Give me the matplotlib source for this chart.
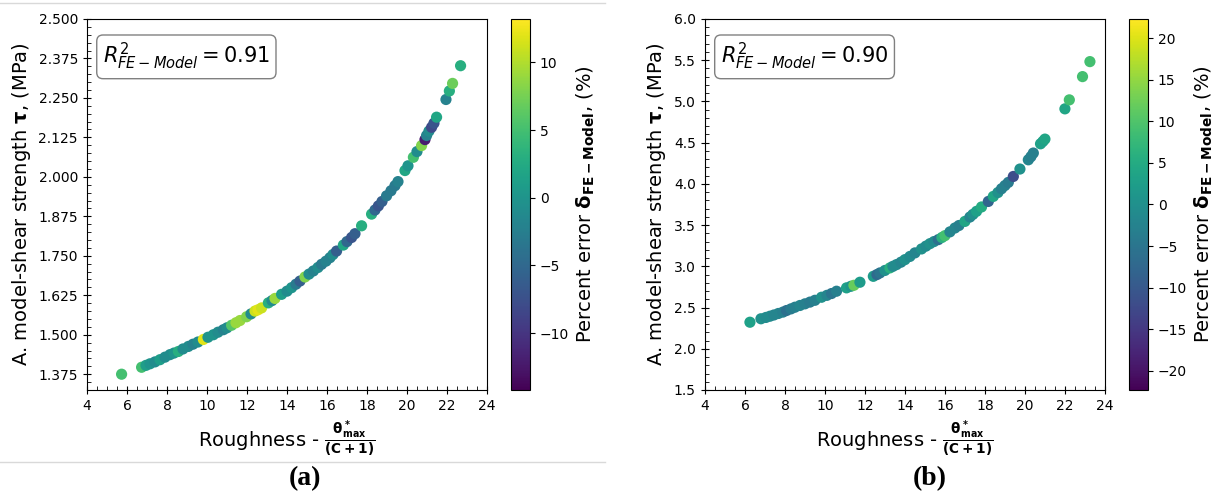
import matplotlib
matplotlib.use("Agg")
import matplotlib.pyplot as plt
from matplotlib.ticker import MultipleLocator
from matplotlib.colors import Normalize
from matplotlib.lines import Line2D

# panel (a): roughness, shear strength (MPa), percent error (%)
rough_a = [5.73, 6.73, 6.95, 7.15, 7.40, 7.65, 7.90, 8.15, 8.35, 8.57, 8.80, 9.07, 9.30, 9.55, 9.82,
           10.05, 10.32, 10.55, 10.82, 11.00, 11.23, 11.45, 11.65, 11.98, 12.20, 12.40, 12.55, 12.73,
           13.07, 13.25, 13.40, 13.73, 14.00, 14.23, 14.45, 14.65, 14.90, 15.10, 15.32, 15.55, 15.73,
           15.95, 16.15, 16.30, 16.48, 16.82, 17.00, 17.23, 17.40, 17.73, 18.23, 18.40, 18.57, 18.75,
           18.98, 19.20, 19.40, 19.55, 19.90, 20.05, 20.32, 20.50, 20.73, 20.90, 20.98, 21.10, 21.23,
           21.35, 21.48, 21.95, 22.12, 22.28, 22.68]
tau_a = [1.375, 1.397, 1.403, 1.408, 1.414, 1.421, 1.429, 1.437, 1.442, 1.447, 1.455, 1.463, 1.470, 1.477, 1.485,
         1.492, 1.500, 1.508, 1.516, 1.522, 1.530, 1.538, 1.545, 1.557, 1.566, 1.575, 1.579, 1.585,
         1.601, 1.608, 1.615, 1.628, 1.638, 1.649, 1.660, 1.670, 1.683, 1.692, 1.702, 1.713, 1.723,
         1.733, 1.744, 1.754, 1.765, 1.784, 1.795, 1.808, 1.820, 1.845, 1.882, 1.895, 1.908, 1.922,
         1.940, 1.956, 1.972, 1.985, 2.020, 2.035, 2.062, 2.080, 2.099, 2.118, 2.131, 2.145, 2.157,
         2.170, 2.189, 2.245, 2.272, 2.296, 2.352]
err_a = [5, 5, 1, 0, -1, 1, -1, -1, 0, 3, -1, -1, -2, -1, 12,
         0, 0, -1, -2, -1, 6, 9, 9, 8, -1, 11, 12, 11,
         3, -1, 9, 1, -1, 0, -3, -6, 8, -1, -2, -1, -3,
         -2, -2, -1, -6, 2, -5, -7, -6, 3, 3, -5, -7, -6,
         -3, -3, -3, -2, 2, 0, 5, -1, 8, -12, -2, -1, -8,
         -7, 2, -2, 3, 7, 3]
r2_a = 0.91
cmin_a, cmax_a = -14.2, 13.2

# panel (b)
rough_b = [6.25, 6.80, 7.05, 7.25, 7.45, 7.67, 7.90, 8.08, 8.30, 8.50, 8.75, 9.00, 9.25, 9.50, 9.83,
           10.10, 10.33, 10.58, 11.08, 11.30, 11.45, 11.75, 12.42, 12.60, 12.75, 13.00, 13.25, 13.40,
           13.58, 13.80, 14.00, 14.25, 14.50, 14.83, 15.05, 15.25, 15.45, 15.67, 15.85, 16.00, 16.25,
           16.50, 16.70, 17.00, 17.25, 17.40, 17.58, 17.83, 18.17, 18.42, 18.65, 18.83, 19.00, 19.17,
           19.42, 19.75, 20.17, 20.30, 20.42, 20.78, 20.90, 21.00, 22.00, 22.22, 22.88, 23.25]
tau_b = [2.322, 2.364, 2.380, 2.395, 2.410, 2.428, 2.445, 2.464, 2.484, 2.504, 2.525, 2.545, 2.566, 2.588, 2.625,
         2.648, 2.670, 2.698, 2.739, 2.758, 2.770, 2.807, 2.879, 2.900, 2.920, 2.950, 2.981, 3.000,
         3.021, 3.050, 3.081, 3.120, 3.163, 3.211, 3.245, 3.275, 3.300, 3.324, 3.350, 3.372, 3.418,
         3.465, 3.495, 3.545, 3.598, 3.630, 3.667, 3.720, 3.787, 3.848, 3.895, 3.941, 3.980, 4.018,
         4.090, 4.180, 4.292, 4.330, 4.374, 4.486, 4.515, 4.543, 4.910, 5.019, 5.301, 5.483]
err_b = [3, 0, -1, -1, -2, -2, -3, -6, -4, -3, -2, -3, -4, -3, 0,
         -2, -5, -3, 3, 1, 12, 2, 2, -7, -5, 0, 6, -1,
         -1, -2, 0, -1, -2, 0, -1, 0, -1, -6, 6, 9, -2,
         -2, -3, 4, -2, 0, 3, 5, -8, 4, 0, -3, -3, -4,
         -12, 0, -2, -3, -3, 3, 3, 4, 4, 9, 9, 9]
r2_b = 0.90
cmin_b, cmax_b = -22.3, 22.3

fig = plt.figure(figsize=(12.15, 4.97), dpi=100)


def panel(rect, cbrect, x, y, c, cmin, cmax, r2, ylim, ymaj, ymin, fmt, tag, tagx):
    ax = fig.add_axes(rect)
    sc = ax.scatter(x, y, c=c, cmap="viridis", norm=Normalize(cmin, cmax), s=65, linewidths=0)
    ax.set_xlim(4, 24)
    ax.set_ylim(*ylim)
    ax.xaxis.set_major_locator(MultipleLocator(2))
    ax.xaxis.set_minor_locator(MultipleLocator(0.5))
    ax.yaxis.set_major_locator(MultipleLocator(ymaj))
    ax.yaxis.set_minor_locator(MultipleLocator(ymin))
    ax.yaxis.set_major_formatter(fmt)
    ax.tick_params(which="major", direction="inout", length=6, labelsize=10)
    ax.tick_params(which="minor", direction="in", length=3)
    ax.set_xlabel(r"Roughness - $\mathbf{\frac{\theta^*_{max}}{(C+1)}}$", fontsize=14)
    ax.set_ylabel(r"A. model-shear strength $\mathbf{\tau}$, (MPa)", fontsize=14)
    ax.text(0.04, 0.94, r"$R^2_{FE-Model} = %.2f$" % r2, transform=ax.transAxes,
            fontsize=15, va="top", ha="left",
            bbox=dict(boxstyle="round,pad=0.3", fc="white", ec="gray"))
    cax = fig.add_axes(cbrect)
    cb = fig.colorbar(sc, cax=cax)
    cb.ax.tick_params(labelsize=10)
    cb.set_label(r"Percent error $\mathbf{\delta_{FE-Model}}$, (%)", fontsize=14)
    fig.text(tagx, 0.038, tag, fontsize=20, fontweight="bold", family="Liberation Serif",
             ha="center", va="center")
    return ax


panel([0.0716, 0.2153, 0.3292, 0.7465], [0.4206, 0.2153, 0.0156, 0.7465],
      rough_a, tau_a, err_a, cmin_a, cmax_a, r2_a, (1.325, 2.5), 0.125, 0.025, "{x:.3f}", "(a)", 0.251)
panel([0.5802, 0.2153, 0.3292, 0.7465], [0.9292, 0.2153, 0.0156, 0.7465],
      rough_b, tau_b, err_b, cmin_b, cmax_b, r2_b, (1.5, 6.0), 0.5, 0.1, "{x:.1f}", "(b)", 0.765)

# table borders of the original layout
fig.add_artist(Line2D([0, 0.498], [0.994, 0.994], color="#d9d9d9", lw=1))
fig.add_artist(Line2D([0, 0.498], [0.0704, 0.0704], color="#d9d9d9", lw=1))

fig.savefig("out.png", dpi=100)
